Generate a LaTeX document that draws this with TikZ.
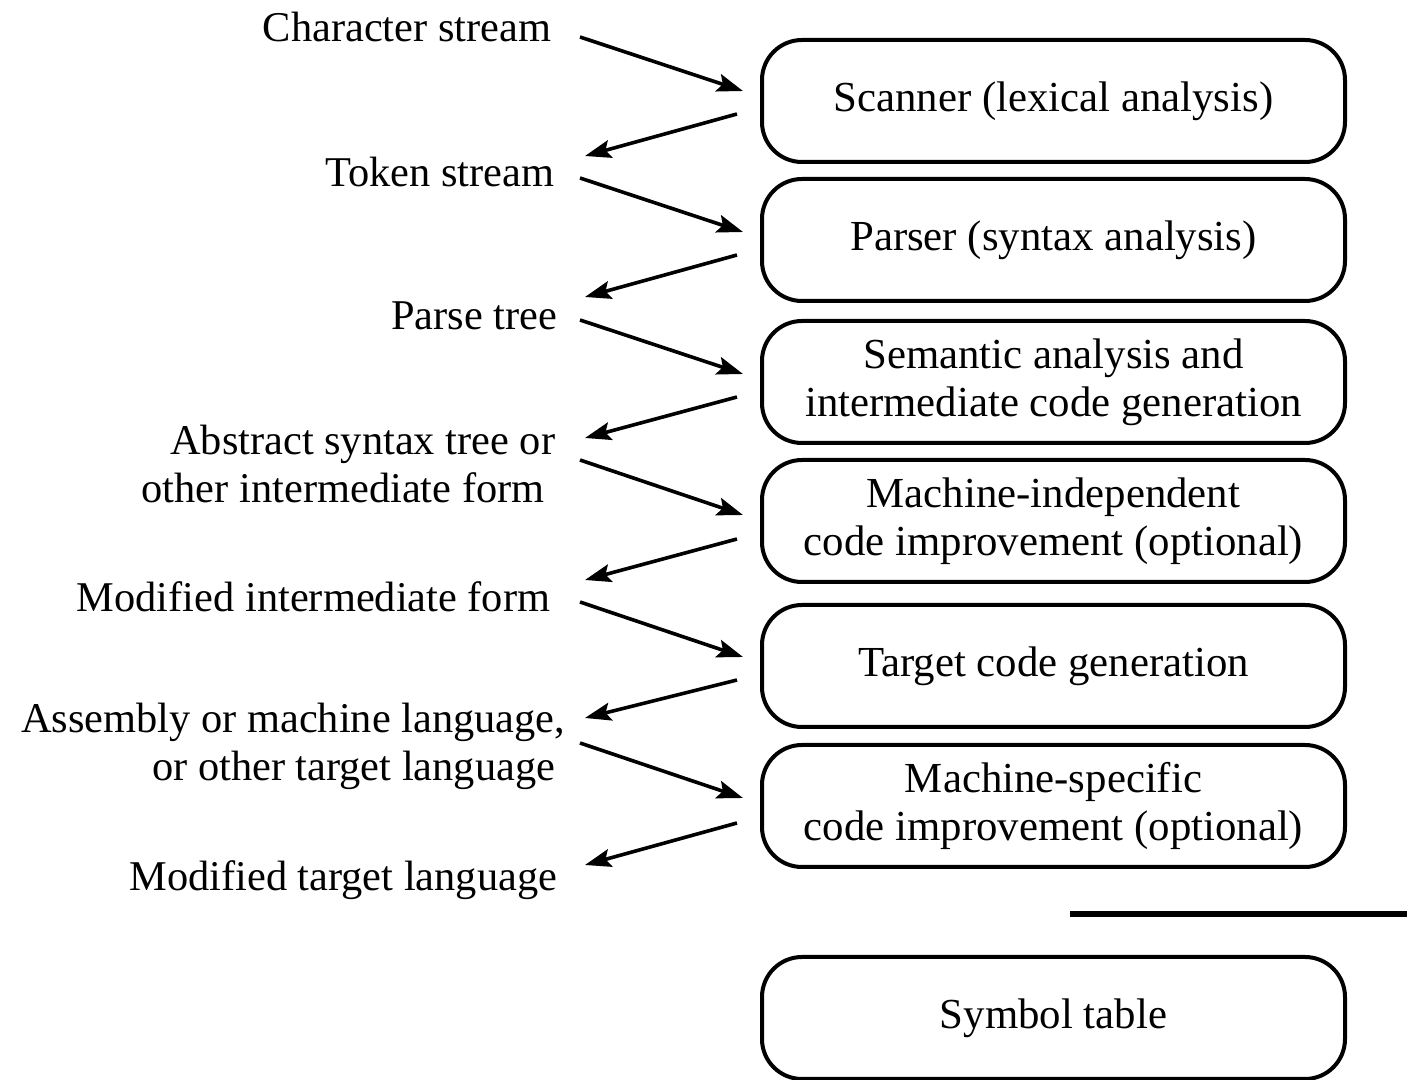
\documentclass[tikz,border=0pt]{standalone}
\usepackage{fontspec}
\setmainfont{Liberation Serif}
\usetikzlibrary{positioning, calc, arrows.meta}
\tikzset{phase/.style={draw, line width=1pt, rounded corners=10pt, minimum width=145.75pt, minimum height=30.5pt, align=center, font=\fontsize{10.7}{12}\selectfont},
  form/.style={anchor=east, inner sep=0pt, align=right, font=\fontsize{10.6}{12}\selectfont},
  flow/.style={-{Stealth[length=6.5pt,width=4.5pt,inset=1.2pt]}, line width=0.9pt}}

\begin{document}
\begin{tikzpicture}[x=0.25pt, y=-0.25pt]
    \useasboundingbox (0,0) rectangle (1407,1080);
    % phases of the compiler
    \node[phase] (ph-1) at (1053.5,101) {Scanner (lexical analysis)};
    \node[phase] (ph-2) at (1053.5,240) {Parser (syntax analysis)};
    \node[phase] (ph-3) at (1053.5,382) {Semantic analysis and\\intermediate code generation};
    \node[phase] (ph-4) at (1053.5,521) {Machine-independent\\code improvement (optional)};
    \node[phase] (ph-5) at (1053.5,666) {Target code generation};
    \node[phase] (ph-6) at (1053.5,806) {Machine-specific\\code improvement (optional)};
    \node[phase] (symtab) at (1053.5,1018) {Symbol table};

    % forms passed between phases
    \node[form] (fm-0) at (552,27) {Character stream};
    \node[form] (fm-1) at (555,172) {Token stream};
    \node[form] (fm-2) at (558,316) {Parse tree};
    \node[form] (fm-3) at (556,464) {Abstract syntax tree or\\other intermediate form\kern2.7pt};
    \node[form] (fm-4) at (551,597) {Modified intermediate form};
    \node[form] (fm-5) at (566,746) {Assembly or machine language,\\or other target language\kern2.5pt};
    \node[form] (fm-6) at (558,880) {Modified target language};

    \draw[flow] ($(ph-1.west)+(-180,-64)$) -- ($(ph-1.west)+(-17,-10)$);
    \draw[flow] ($(ph-1.west)+(-23,13)$) -- ($(ph-1.west)+(-175,55)$);

    \draw[flow] ($(ph-2.west)+(-180,-62)$) -- ($(ph-2.west)+(-17,-8)$);
    \draw[flow] ($(ph-2.west)+(-23,15)$) -- ($(ph-2.west)+(-175,57)$);

    \draw[flow] ($(ph-3.west)+(-180,-62)$) -- ($(ph-3.west)+(-17,-8)$);
    \draw[flow] ($(ph-3.west)+(-23,15)$) -- ($(ph-3.west)+(-175,56)$);

    \draw[flow] ($(ph-4.west)+(-180,-61)$) -- ($(ph-4.west)+(-17,-6)$);
    \draw[flow] ($(ph-4.west)+(-23,18)$) -- ($(ph-4.west)+(-175,59)$);

    \draw[flow] ($(ph-5.west)+(-180,-64)$) -- ($(ph-5.west)+(-17,-9)$);
    \draw[flow] ($(ph-5.west)+(-23,14)$) -- ($(ph-5.west)+(-175,52)$);

    \draw[flow] ($(ph-6.west)+(-180,-63)$) -- ($(ph-6.west)+(-17,-8)$);
    \draw[flow] ($(ph-6.west)+(-23,17)$) -- ($(ph-6.west)+(-175,59)$);

    % rule above the symbol table
    \coordinate (rule-a) at (1070,914);
    \coordinate (rule-b) at (1407,914);
    \draw[line width=1.6pt] (rule-a) -- (rule-b);
\end{tikzpicture}
\end{document}
